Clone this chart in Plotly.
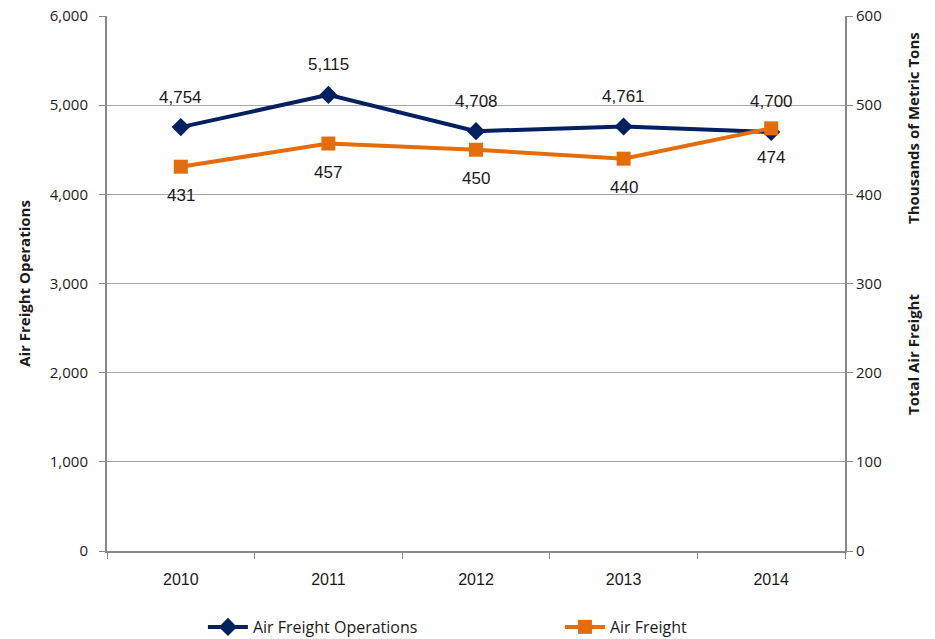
import plotly.graph_objects as go

years = ["2010", "2011", "2012", "2013", "2014"]
operations = [4754, 5115, 4708, 4761, 4700]
freight = [431, 457, 450, 440, 474]
left_ticks = [0, 1000, 2000, 3000, 4000, 5000, 6000]
right_ticks = [0, 100, 200, 300, 400, 500, 600]

navy = "#002060"
orange = "#E46C0A"
font_main = "Open Sans"
font_lbl = "Liberation Sans Narrow, Arial Narrow, Liberation Sans"

fig = go.Figure()
fig.add_trace(go.Scatter(
    x=years, y=operations, name="Air Freight Operations",
    mode="lines+markers",
    line=dict(color=navy, width=4),
    marker=dict(symbol="diamond", size=14, color=navy),
))
fig.add_trace(go.Scatter(
    x=years, y=freight, name="Air Freight", yaxis="y2",
    mode="lines+markers",
    line=dict(color=orange, width=4),
    marker=dict(symbol="square", size=14, color=orange),
))

# data labels (category axis positions are category indices)
for i, v in enumerate(operations):
    fig.add_annotation(x=i, y=v, xref="x", yref="y", text=f"{v:,}", showarrow=False,
                       yshift=30, font=dict(family=font_lbl, size=17, color="#1a1a1a"))
for i, v in enumerate(freight):
    fig.add_annotation(x=i, y=v, xref="x", yref="y2", text=str(v), showarrow=False,
                       yshift=-29, font=dict(family=font_lbl, size=17, color="#1a1a1a"))

fig.update_layout(
    width=935, height=639,
    margin=dict(l=107, r=90, t=16, b=88, autoexpand=False),
    paper_bgcolor="white", plot_bgcolor="white",
    font=dict(family=font_main, size=15, color="#1a1a1a"),
    showlegend=True,
    legend=dict(orientation="h", x=0.13, xanchor="left", yref="container",
                y=(639 - 627) / 639, yanchor="middle",
                font=dict(family=font_main, size=16), entrywidth=302, itemwidth=40,
                bgcolor="rgba(0,0,0,0)"),
    xaxis=dict(type="category", tickson="boundaries", ticks="outside", ticklen=6,
               tickcolor="#888888", showline=True, linecolor="#888888", linewidth=2,
               showgrid=False, tickfont=dict(family=font_lbl, size=16), range=[-0.5, 4.5],
               ticklabelstandoff=13, automargin=False),
    yaxis=dict(range=[0, 6000], tickvals=left_ticks, tickformat=",",
               ticks="outside", ticklen=6, tickcolor="#888888",
               showline=True, linecolor="#888888", linewidth=2,
               showgrid=True, gridcolor="#A6A6A6", gridwidth=1, zeroline=False,
               ticklabelstandoff=8, automargin=False, ticklabeloverflow="allow",
               title=dict(text="<b>Air Freight Operations</b>", font=dict(size=15), standoff=16)),
    yaxis2=dict(range=[0, 600], tickvals=right_ticks, overlaying="y", side="right",
                ticks="outside", ticklen=6, tickcolor="#888888",
                showline=True, linecolor="#888888", linewidth=2, ticklabeloverflow="allow",
                showgrid=False, zeroline=False, automargin=False),
)

fig.add_annotation(text="<b>Total Air Freight</b>", xref="paper", yref="paper",
                   x=1.0, xshift=68, y=(551 - 355) / 535, textangle=-90,
                   xanchor="center", yanchor="middle",
                   showarrow=False, font=dict(size=15))
fig.add_annotation(text="<b>Thousands of Metric Tons</b>", xref="paper", yref="paper",
                   x=1.0, xshift=68, y=(551 - 128) / 535, textangle=-90,
                   xanchor="center", yanchor="middle",
                   showarrow=False, font=dict(size=15))

fig.write_html("out.html", config={"displayModeBar": False},
               post_script="document.body.style.margin='0';")
